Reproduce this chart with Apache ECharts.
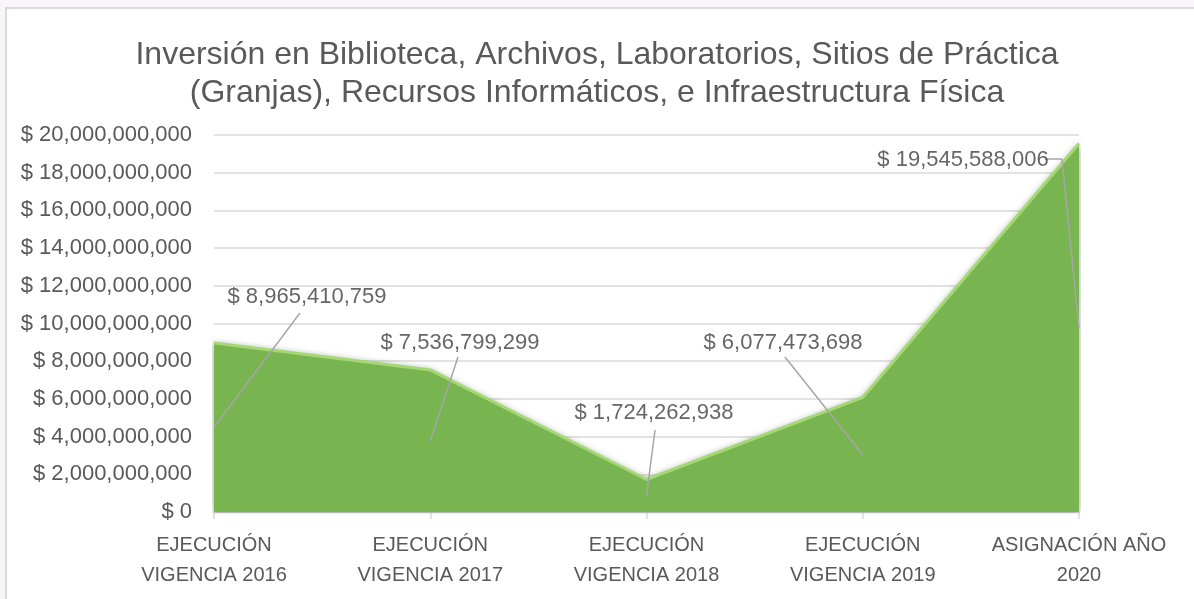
<!DOCTYPE html>
<html>
<head>
<meta charset="utf-8">
<script src="https://cdn.jsdelivr.net/npm/echarts@6/dist/echarts.min.js"></script>
<style>
  html, body { margin: 0; padding: 0; background: #f8f6f8; }
  .frame {
    position: absolute; left: 5px; top: 7px; width: 1200px; height: 600px;
    background: #fff; border-left: 2px solid #d9d9d9; border-top: 2px solid #d9d9d9;
  }
  #chart { position: absolute; left: 0; top: 0; width: 1194px; height: 599px; }
</style>
</head>
<body>
<div class="frame"></div>
<div id="chart"></div>
<script>
// datos
const categories = [
  'EJECUCIÓN\nVIGENCIA 2016',
  'EJECUCIÓN\nVIGENCIA 2017',
  'EJECUCIÓN\nVIGENCIA 2018',
  'EJECUCIÓN\nVIGENCIA 2019',
  'ASIGNACIÓN AÑO\n2020'
]
const values = [8965410759, 7536799299, 1724262938, 6077473698, 19545588006]
const yTicks = [0, 20000000000, 2000000000] // min, max, interval

// posiciones de las etiquetas (centro del texto) y de donde sale la línea guía (px)
const labelSpots = [[307, 297], [460, 343], [654, 413], [783, 343], [963, 160]]
const lineStarts = [[[300, 313]], [[458, 357]], [[655, 430]], [[785, 357]], [[1045, 159], [1062, 159]]]

const money = v => '$ ' + Number(v).toLocaleString('en-US')
const font = "'Liberation Sans', Arial, sans-serif"

// líneas guía: desde la etiqueta hasta la mitad del área
const guides = []
lineStarts.forEach((pts, i) => {
  for (let k = 0; k < pts.length - 1; k++) {
    guides.push([{ x: pts[k][0], y: pts[k][1] }, { x: pts[k + 1][0], y: pts[k + 1][1] }])
  }
  const last = pts[pts.length - 1]
  guides.push([{ x: last[0], y: last[1] }, { coord: [i, values[i] / 2] }])
})

const chart = echarts.init(document.getElementById('chart'), null, { renderer: 'canvas' })
chart.setOption({
  backgroundColor: 'transparent',
  animation: false,
  title: {
    text: 'Inversión en Biblioteca, Archivos, Laboratorios, Sitios de Práctica\n(Granjas), Recursos Informáticos, e Infraestructura Física',
    left: 'center',
    top: 31,
    textStyle: { fontFamily: font, fontSize: 32, fontWeight: 'normal', color: '#595959', lineHeight: 38 }
  },
  grid: { left: 214, right: 115, top: 135, bottom: 87, outerBoundsMode: 'none' },
  xAxis: {
    type: 'category',
    data: categories,
    boundaryGap: false,
    axisLine: { lineStyle: { color: '#d9d9d9', width: 1.5 } },
    axisTick: { show: true, length: 7, lineStyle: { color: '#d9d9d9', width: 1.5 } },
    axisLabel: { margin: 18, fontFamily: font, fontSize: 20, color: '#595959', lineHeight: 30, interval: 0 }
  },
  yAxis: {
    type: 'value',
    min: yTicks[0],
    max: yTicks[1],
    interval: yTicks[2],
    axisLine: { show: false },
    axisTick: { show: false },
    splitLine: { lineStyle: { color: '#d9d9d9', width: 1.5 } },
    axisLabel: { margin: 22, fontFamily: font, fontSize: 22, color: '#595959', formatter: money }
  },
  series: [
    {
      type: 'line',
      data: values,
      symbol: 'none',
      lineStyle: { color: '#a3d873', width: 3 },
      areaStyle: { color: '#78b450', opacity: 1, shadowColor: 'rgba(40,70,20,0.5)', shadowBlur: 6 },
      z: 2
    },
    {
      // anclas de las etiquetas, a media altura del área
      type: 'scatter',
      data: values.map(v => v / 2),
      symbolSize: 2,
      itemStyle: { color: 'rgba(0,0,0,0)' },
      silent: true,
      z: 5,
      label: {
        show: true,
        fontFamily: font,
        fontSize: 22,
        color: '#404040',
        formatter: p => money(values[p.dataIndex])
      },
      labelLayout: p => {
        const s = labelSpots[p.dataIndex]
        return { x: s[0], y: s[1], align: 'center', verticalAlign: 'middle' }
      },
      markLine: {
        silent: true,
        symbol: ['none', 'none'],
        label: { show: false },
        lineStyle: { color: '#a6a6a6', width: 1.5, type: 'solid' },
        emphasis: { disabled: true },
        data: guides
      }
    }
  ]
})
</script>
</body>
</html>
